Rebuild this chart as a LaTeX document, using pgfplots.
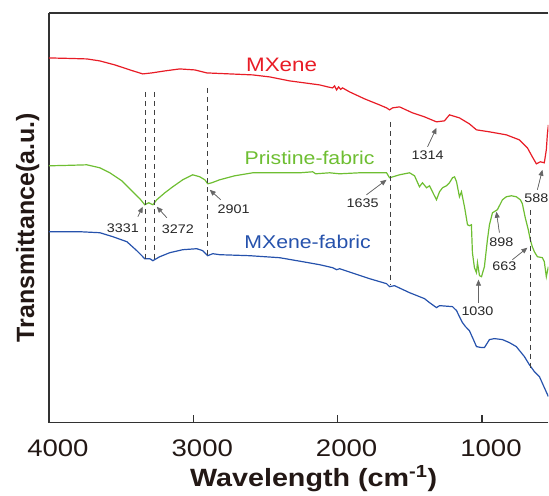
\documentclass[border=0pt]{standalone}
\usepackage{fontspec}
\setmainfont{Liberation Sans}[FakeStretch=1.15]
\newfontfamily\plainsans{Liberation Sans}
\usepackage{pgfplots}
\pgfplotsset{compat=1.18}
\usetikzlibrary{arrows.meta}

\definecolor{cMX}{RGB}{232,28,38}
\definecolor{cPF}{RGB}{110,190,50}
\definecolor{cMF}{RGB}{38,82,172}
\definecolor{cAx}{RGB}{50,50,50}
\definecolor{cTx}{RGB}{35,24,21}

\begin{document}
\begin{tikzpicture}[
  peak/.style={font=\fontsize{12.5}{13}\selectfont, text=black!85},
  parrow/.style={-{Triangle[length=6pt,width=5pt]}, draw=black!60, fill=black, line width=0.7pt},
  vline/.style={black!75, dashed, dash pattern=on 5pt off 4pt, line width=0.9pt}
]
\begin{axis}[
  name=ax,
  scale only axis,
  width=500pt, height=410pt,
  xmin=540, xmax=4000, ymin=63, ymax=473,
  x dir=reverse,
  axis x line*=box, axis y line*=left,
  axis line style={cAx, line width=1.3pt},
  xtick={1000,2000,3000,4000},
  xtick pos=bottom,
  ytick=\empty,
  tick align=inside,
  major tick length=8pt,
  tick style={cAx, line width=1.2pt},
  /pgf/number format/assume math mode=true,
  /pgf/number format/1000 sep={},
  xticklabel style={font=\fontsize{24}{26}\selectfont, text=cTx, xshift=9pt, yshift=-14pt},
  xlabel={\bfseries Wavelength (cm\textsuperscript{-1})},
  xlabel style={font=\fontsize{25}{27}\selectfont, text=cTx, xshift=15pt, yshift=-2pt},
  ylabel={\plainsans\bfseries Transmittance(a.u.)},
  ylabel style={font=\fontsize{25}{27}\selectfont, text=cTx, yshift=6pt, xshift=-10pt},
  clip=true,
]

% MXene
\addplot[cMX, line width=1.2pt] coordinates {
(4000,428) (3855,427.5) (3737,427) (3647,425) (3543,421) (3439,416) (3350,412)
(3287,413) (3197,415) (3094,417) (2990,416) (2907,413) (2747,412) (2588,411)
(2471,409) (2332,405) (2228,403) (2125,401) (2069,399) (2035,398) (2021,400)
(2007,396) (1993,399) (1979,396.5) (1966,398) (1917,394) (1813,387) (1710,381)
(1661,378) (1640,376) (1619,378) (1571,379) (1481,373) (1398,369) (1315,364)
(1260,365) (1225,371) (1156,368) (1087,362) (1038,356) (948,354) (831,351)
(741,346) (685,338) (651,329) (623,322) (596,324) (568,323) (554,336)
(547,351) (540,361)
};

% Pristine fabric
\addplot[cPF, line width=1.2pt] coordinates {
(4000,320) (3855,320.5) (3737,321) (3647,318) (3578,313) (3495,305) (3419,294)
(3370,287) (3336,281) (3308,283) (3280,281) (3253,286) (3197,293) (3142,299)
(3073,306) (3004,311) (2955,309) (2920,306) (2900,302) (2872,303) (2817,306)
(2713,310) (2588,313) (2471,313) (2263,313) (2173,314) (2152,312) (2055,313)
(1986,312) (1848,313) (1661,313) (1640,308) (1571,311) (1502,313) (1467,310)
(1433,299) (1412,303) (1384,298) (1363,300) (1336,292) (1315,286) (1294,294)
(1273,298) (1246,300) (1225,303) (1204,308) (1190,309) (1176,304) (1156,289)
(1142,294) (1121,279) (1100,261) (1087,260) (1073,261) (1066,233) (1052,218)
(1038,213) (1031,223) (1017,210) (1003,209) (983,219) (962,246) (948,261)
(927,273) (893,276) (879,280) (858,286) (831,289) (796,290) (762,289)
(734,286) (720,282) (700,268) (679,256) (665,246) (651,239) (637,234)
(616,229) (581,228) (568,224) (554,209) (540,219)
};

% MXene-coated fabric
\addplot[cMF, line width=1.2pt] coordinates {
(4000,254) (3785,254) (3647,253) (3557,249) (3460,244) (3391,235) (3336,227)
(3301,227) (3280,225) (3232,229) (3163,233) (3073,236) (2976,237) (2934,235)
(2900,230) (2865,232) (2817,231) (2609,230) (2402,228) (2242,224) (2125,221)
(2035,218) (2007,216) (1986,217) (1883,212) (1779,207) (1661,202) (1640,199)
(1606,200) (1502,193) (1398,187) (1363,183) (1315,178) (1294,180) (1204,179)
(1176,175) (1156,169) (1135,163) (1114,159) (1087,155) (1059,146) (1038,139)
(1003,138) (983,138) (948,146) (914,147) (858,146) (810,143) (762,139)
(706,129) (672,121) (637,114) (602,109) (568,98) (540,89)
};

% peak guide lines
\addplot[vline, forget plot] coordinates {(3331,394) (3331,226)};
\addplot[vline, forget plot] coordinates {(3272,394) (3272,226)};
\addplot[vline, forget plot] coordinates {(2901,398) (2901,231)};
\addplot[vline, forget plot] coordinates {(1635,364) (1635,201)};
\addplot[vline, forget plot] coordinates {(663,276) (663,118)};

% curve names
\node[text=cMX, font=\fontsize{19.5}{21}\selectfont] at (axis cs:2388,421) {MXene};
\node[text=cPF, font=\fontsize{18.5}{20}\selectfont] at (axis cs:2194,328) {Pristine-fabric};
\node[text=cMF, font=\fontsize{18.5}{20}\selectfont] at (axis cs:2208,244) {MXene-fabric};

% peak annotations
\node[peak] at (axis cs:3488,258) {3331};
\draw[parrow] (axis cs:3384,269) -- (axis cs:3350,279);
\node[peak] at (axis cs:3107,257) {3272};
\draw[parrow] (axis cs:3183,268) -- (axis cs:3253,279);
\node[peak] at (axis cs:2720,277) {2901};
\draw[parrow] (axis cs:2810,286) -- (axis cs:2886,296);
\node[peak] at (axis cs:1827,283) {1635};
\draw[parrow] (axis cs:1800,291) -- (axis cs:1661,306);
\node[peak] at (axis cs:1377,331) {1314};
\draw[parrow] (axis cs:1377,339) -- (axis cs:1315,358);
\node[peak] at (axis cs:623,288) {588};
\draw[parrow] (axis cs:616,296) -- (axis cs:581,316);
\node[peak] at (axis cs:865,244) {898};
\draw[parrow] (axis cs:879,253) -- (axis cs:900,274);
\node[peak] at (axis cs:844,219) {663};
\draw[parrow] (axis cs:789,226) -- (axis cs:685,238);
\node[peak] at (axis cs:1031,174) {1030};
\draw[parrow] (axis cs:1024,183) -- (axis cs:1024,206);
\end{axis}
% page frame
\path ([shift={(-49pt,-63pt)}]ax.south west) rectangle ([shift={(0pt,13pt)}]ax.north east);
\end{tikzpicture}
\end{document}
